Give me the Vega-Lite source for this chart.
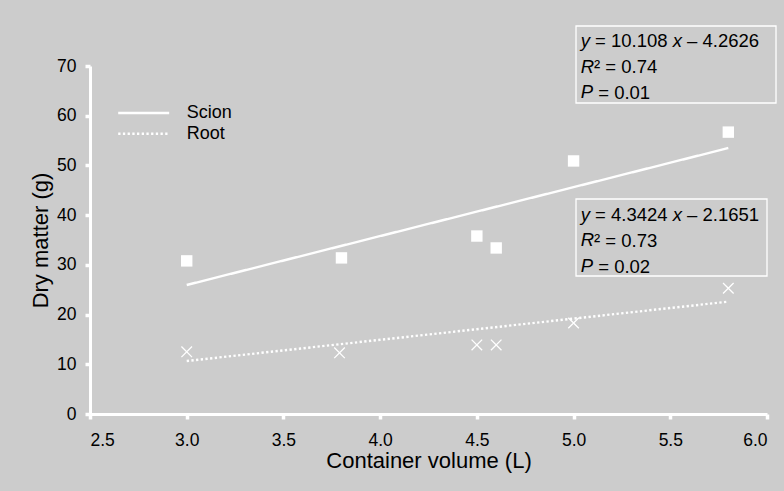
{
  "$schema": "https://vega.github.io/schema/vega-lite/v6.json",
  "width": 677,
  "height": 348,
  "autosize": {"type": "none"},
  "padding": {"left": 90, "top": 66, "right": 17, "bottom": 77},
  "background": "#cccccc",
  "config": {
    "view": {"stroke": null},
    "axis": {
      "grid": false,
      "domainColor": "white",
      "domainWidth": 3,
      "tickColor": "white",
      "tickWidth": 3.5,
      "tickSize": 5,
      "labelFont": "Liberation Sans",
      "labelFontSize": 17.5,
      "labelColor": "#000000",
      "titleFont": "Liberation Sans",
      "titleFontSize": 22,
      "titleFontWeight": "normal",
      "titleColor": "#000000"
    },
    "text": {"font": "Liberation Sans", "color": "#000000"}
  },
  "datasets": {
    "points": [
      {"series": "Scion", "volume": 3.0, "dry": 30.8},
      {"series": "Scion", "volume": 3.8, "dry": 31.4},
      {"series": "Scion", "volume": 4.5, "dry": 35.8},
      {"series": "Scion", "volume": 4.6, "dry": 33.4},
      {"series": "Scion", "volume": 5.0, "dry": 50.9},
      {"series": "Scion", "volume": 5.8, "dry": 56.7},
      {"series": "Root", "volume": 3.0, "dry": 12.5},
      {"series": "Root", "volume": 3.79, "dry": 12.3},
      {"series": "Root", "volume": 4.5, "dry": 13.9},
      {"series": "Root", "volume": 4.6, "dry": 13.9},
      {"series": "Root", "volume": 5.0, "dry": 18.3},
      {"series": "Root", "volume": 5.8, "dry": 25.3}
    ],
    "fits": [
      {"series": "Scion", "volume": 3.0, "dry": 25.95},
      {"series": "Scion", "volume": 5.8, "dry": 53.5},
      {"series": "Root", "volume": 3.0, "dry": 10.66},
      {"series": "Root", "volume": 5.8, "dry": 22.6}
    ]
  },
  "layer": [
    {
      "data": {"name": "fits"},
      "mark": {"type": "line", "color": "white", "strokeWidth": 2.4, "strokeCap": "butt"},
      "encoding": {
        "x": {
          "field": "volume", "type": "quantitative",
          "scale": {"domain": [2.5, 6], "nice": false, "zero": false},
          "axis": {"values": [2.5, 3, 3.5, 4, 4.5, 5, 5.5, 6], "format": ".1f", "title": "Container volume (L)", "labelPadding": 12, "titlePadding": 2}
        },
        "y": {
          "field": "dry", "type": "quantitative",
          "scale": {"domain": [0, 70], "nice": false, "zero": false},
          "axis": {"values": [0, 10, 20, 30, 40, 50, 60, 70], "title": "Dry matter (g)", "labelPadding": 9, "titlePadding": 4}
        },
        "strokeDash": {
          "field": "series", "type": "nominal",
          "scale": {"domain": ["Scion", "Root"], "range": [[1, 0], [2.3, 2.4]]},
          "legend": {
            "orient": "none", "legendX": 44.7, "legendY": 38, "title": null,
            "padding": 0, "symbolType": "M-5,0L5,0", "symbolSize": 104,
            "symbolStrokeWidth": 2.4, "symbolStrokeColor": "white",
            "labelFont": "Liberation Sans", "labelFontSize": 18, "labelColor": "#000000",
            "labelOffset": 34, "rowPadding": 2.7
          }
        }
      }
    },
    {
      "data": {"name": "points"},
      "transform": [{"filter": "datum.series === 'Scion'"}],
      "mark": {"type": "point", "shape": "square", "filled": true, "color": "white", "size": 130, "opacity": 1},
      "encoding": {
        "x": {"field": "volume", "type": "quantitative"},
        "y": {"field": "dry", "type": "quantitative"}
      }
    },
    {
      "data": {"name": "points"},
      "transform": [{"filter": "datum.series === 'Root'"}],
      "mark": {"type": "point", "shape": "M-1,-1L1,1M-1,1L1,-1", "filled": false, "stroke": "white", "strokeWidth": 1.3, "size": 112, "opacity": 1},
      "encoding": {
        "x": {"field": "volume", "type": "quantitative"},
        "y": {"field": "dry", "type": "quantitative"}
      }
    },
    {
      "data": {"values": [{"box": "Scion"}]},
      "mark": {"type": "rect", "fill": null, "stroke": "white", "strokeWidth": 1.3},
      "encoding": {
        "x": {"datum": 5.0126, "type": "quantitative"},
        "x2": {"datum": 6.0466},
        "y": {"datum": 78.05, "type": "quantitative"},
        "y2": {"datum": 62.56}
      }
    },
    {
      "data": {"values": [{"box": "Root"}]},
      "mark": {"type": "rect", "fill": null, "stroke": "white", "strokeWidth": 1.3},
      "encoding": {
        "x": {"datum": 5.0126, "type": "quantitative"},
        "x2": {"datum": 6.0},
        "y": {"datum": 43.25, "type": "quantitative"},
        "y2": {"datum": 27.76}
      }
    },
    {
      "data": {"values": [{"t": ["y", "R", "P"]}]},
      "mark": {"type": "text", "align": "left", "baseline": "alphabetic", "fontSize": 18.5, "fontStyle": "italic", "lineHeight": 25.5},
      "encoding": {
        "x": {"datum": 5.0368, "type": "quantitative"},
        "y": {"datum": 73.82, "type": "quantitative"},
        "text": {"field": "t"}
      }
    },
    {
      "data": {"values": [{"t": "= 10.108"}]},
      "mark": {"type": "text", "align": "left", "baseline": "alphabetic", "fontSize": 18.5, "dx": 14.4},
      "encoding": {
        "x": {"datum": 5.0368, "type": "quantitative"},
        "y": {"datum": 73.82, "type": "quantitative"},
        "text": {"field": "t"}
      }
    },
    {
      "data": {"values": [{"t": "x"}]},
      "mark": {"type": "text", "align": "left", "baseline": "alphabetic", "fontSize": 18.5, "fontStyle": "italic", "dx": 92.05},
      "encoding": {
        "x": {"datum": 5.0368, "type": "quantitative"},
        "y": {"datum": 73.82, "type": "quantitative"},
        "text": {"field": "t"}
      }
    },
    {
      "data": {"values": [{"t": "– 4.2626"}]},
      "mark": {"type": "text", "align": "left", "baseline": "alphabetic", "fontSize": 18.5, "dx": 106.4},
      "encoding": {
        "x": {"datum": 5.0368, "type": "quantitative"},
        "y": {"datum": 73.82, "type": "quantitative"},
        "text": {"field": "t"}
      }
    },
    {
      "data": {"values": [{"t": "² = 0.74"}]},
      "mark": {"type": "text", "align": "left", "baseline": "alphabetic", "fontSize": 18.5, "dx": 13.36},
      "encoding": {
        "x": {"datum": 5.0368, "type": "quantitative"},
        "y": {"datum": 68.59, "type": "quantitative"},
        "text": {"field": "t"}
      }
    },
    {
      "data": {"values": [{"t": "= 0.01"}]},
      "mark": {"type": "text", "align": "left", "baseline": "alphabetic", "fontSize": 18.5, "dx": 17.5},
      "encoding": {
        "x": {"datum": 5.0368, "type": "quantitative"},
        "y": {"datum": 63.46, "type": "quantitative"},
        "text": {"field": "t"}
      }
    },
    {
      "data": {"values": [{"t": ["y", "R", "P"]}]},
      "mark": {"type": "text", "align": "left", "baseline": "alphabetic", "fontSize": 18.5, "fontStyle": "italic", "lineHeight": 25.5},
      "encoding": {
        "x": {"datum": 5.0368, "type": "quantitative"},
        "y": {"datum": 38.88, "type": "quantitative"},
        "text": {"field": "t"}
      }
    },
    {
      "data": {"values": [{"t": "= 4.3424"}]},
      "mark": {"type": "text", "align": "left", "baseline": "alphabetic", "fontSize": 18.5, "dx": 14.4},
      "encoding": {
        "x": {"datum": 5.0368, "type": "quantitative"},
        "y": {"datum": 38.88, "type": "quantitative"},
        "text": {"field": "t"}
      }
    },
    {
      "data": {"values": [{"t": "x"}]},
      "mark": {"type": "text", "align": "left", "baseline": "alphabetic", "fontSize": 18.5, "fontStyle": "italic", "dx": 92.05},
      "encoding": {
        "x": {"datum": 5.0368, "type": "quantitative"},
        "y": {"datum": 38.88, "type": "quantitative"},
        "text": {"field": "t"}
      }
    },
    {
      "data": {"values": [{"t": "– 2.1651"}]},
      "mark": {"type": "text", "align": "left", "baseline": "alphabetic", "fontSize": 18.5, "dx": 106.4},
      "encoding": {
        "x": {"datum": 5.0368, "type": "quantitative"},
        "y": {"datum": 38.88, "type": "quantitative"},
        "text": {"field": "t"}
      }
    },
    {
      "data": {"values": [{"t": "² = 0.73"}]},
      "mark": {"type": "text", "align": "left", "baseline": "alphabetic", "fontSize": 18.5, "dx": 13.36},
      "encoding": {
        "x": {"datum": 5.0368, "type": "quantitative"},
        "y": {"datum": 33.59, "type": "quantitative"},
        "text": {"field": "t"}
      }
    },
    {
      "data": {"values": [{"t": "= 0.02"}]},
      "mark": {"type": "text", "align": "left", "baseline": "alphabetic", "fontSize": 18.5, "dx": 17.5},
      "encoding": {
        "x": {"datum": 5.0368, "type": "quantitative"},
        "y": {"datum": 28.46, "type": "quantitative"},
        "text": {"field": "t"}
      }
    }
  ]
}
